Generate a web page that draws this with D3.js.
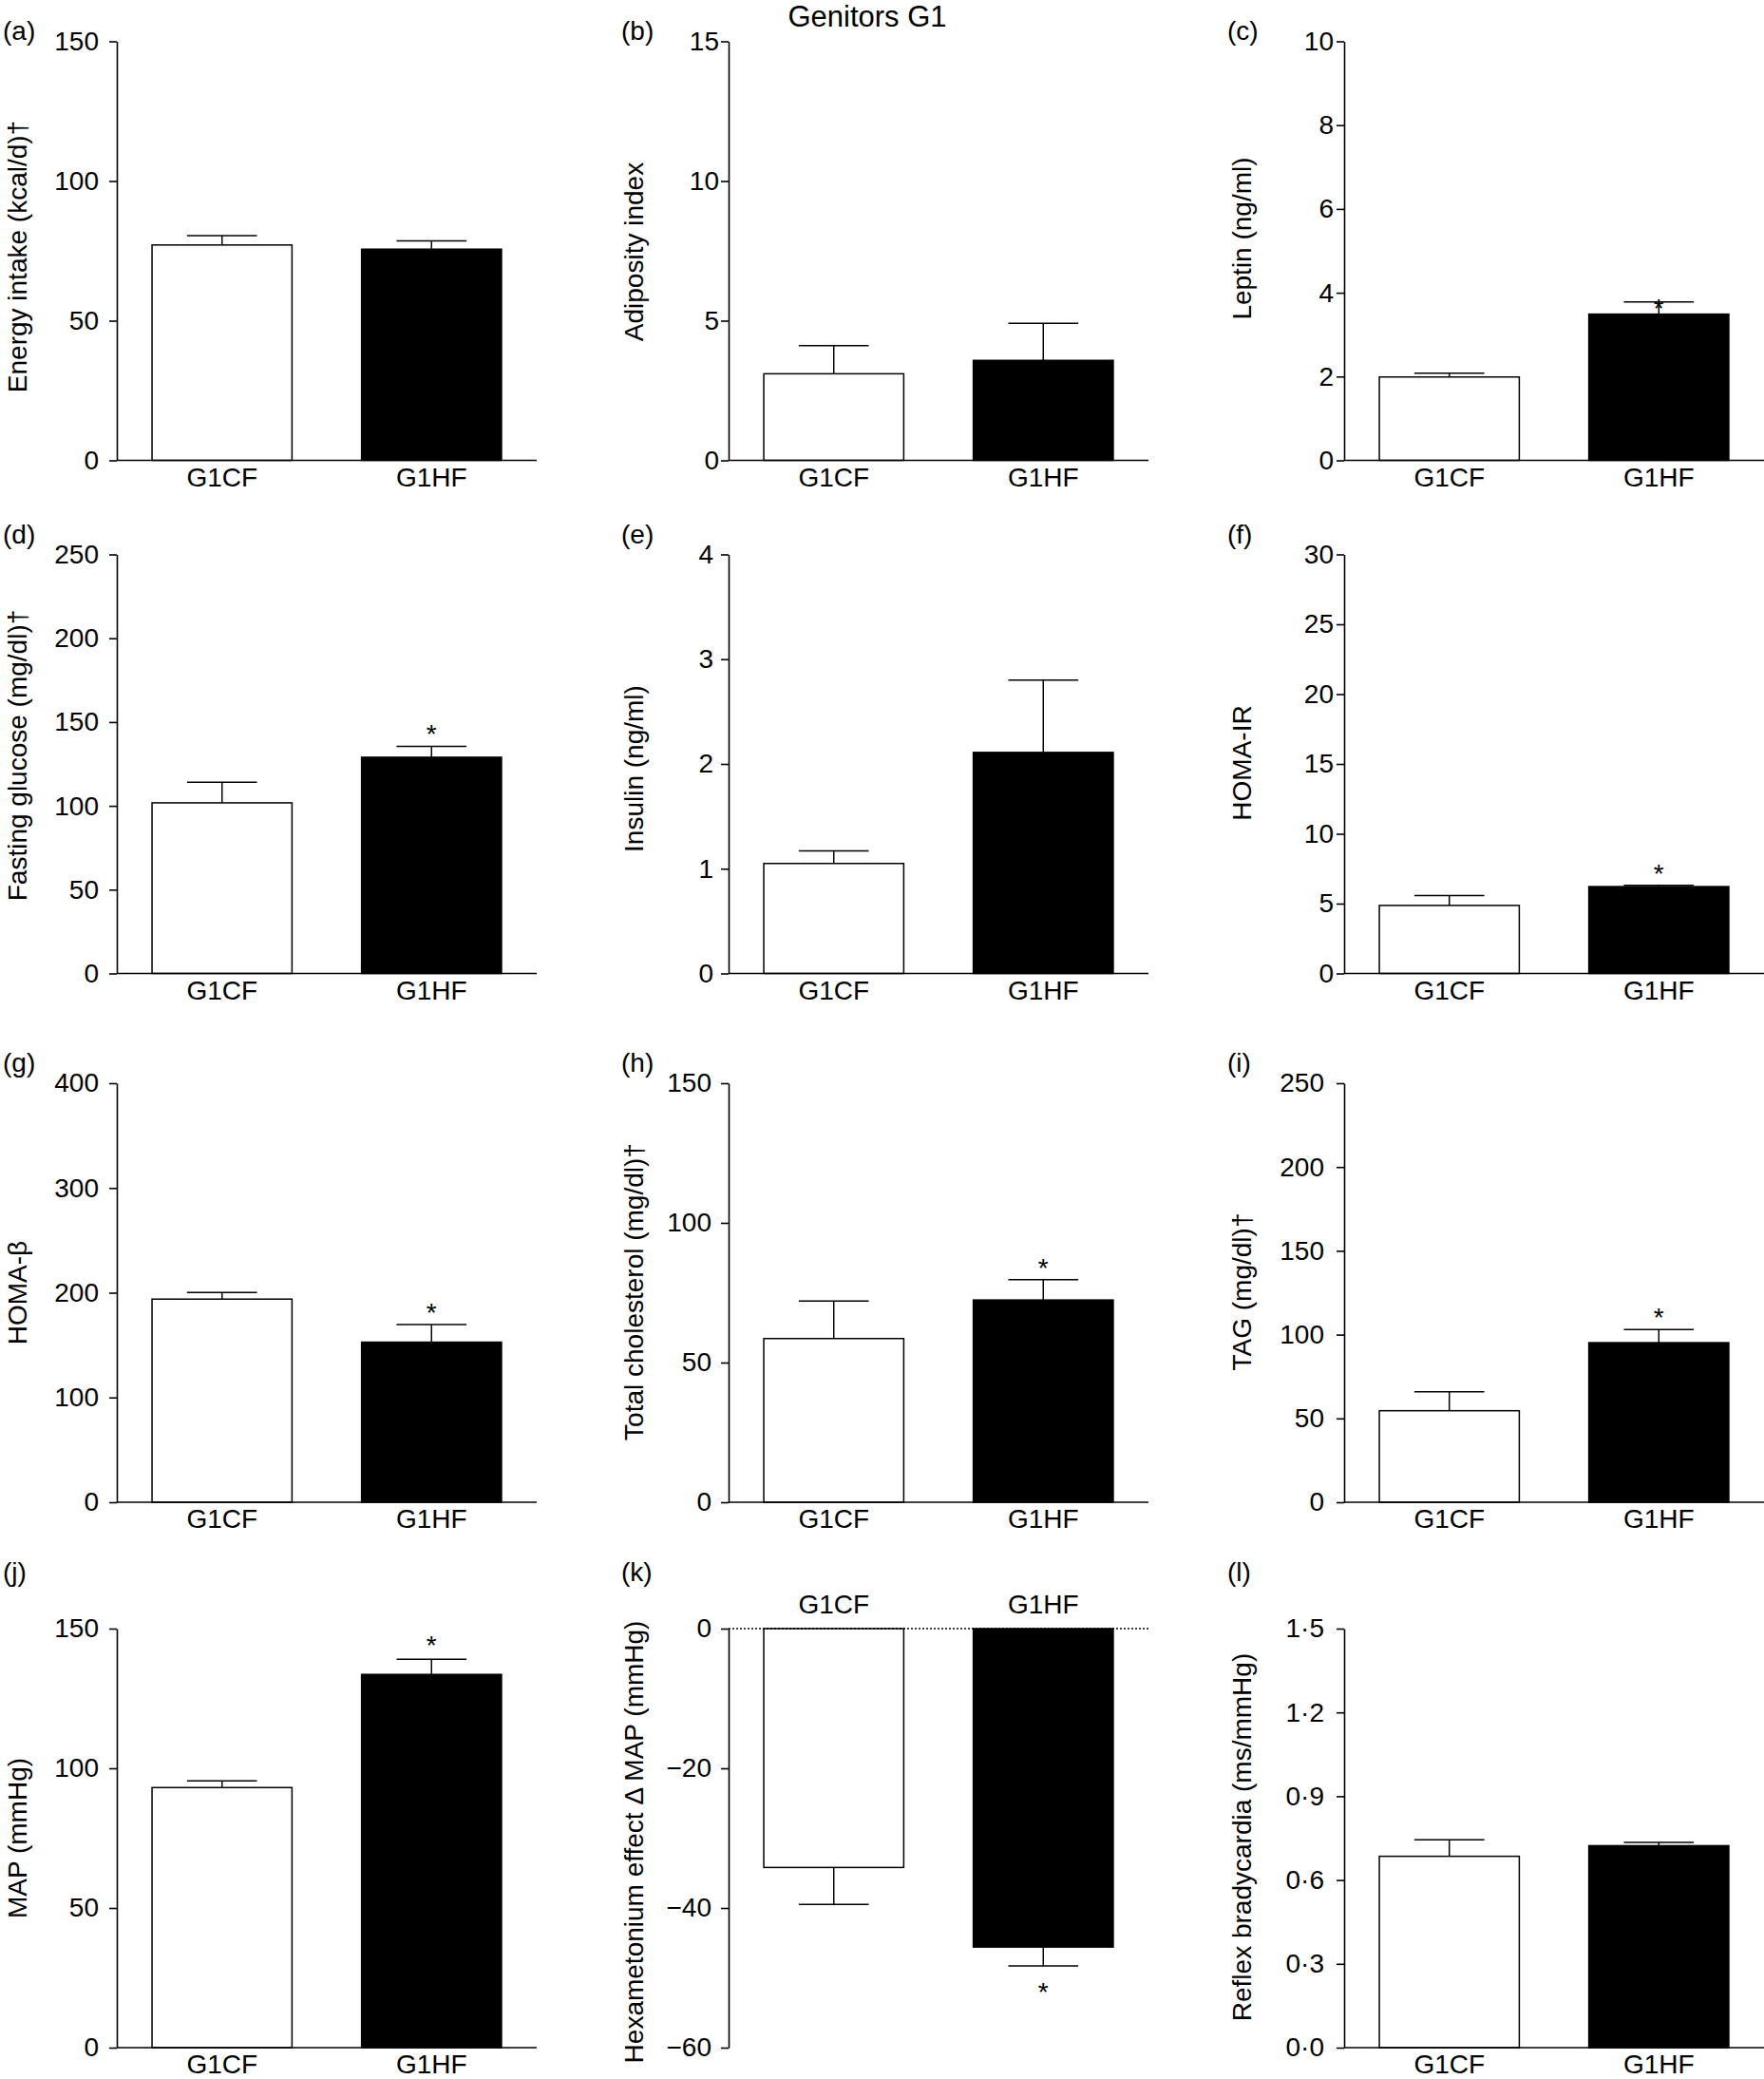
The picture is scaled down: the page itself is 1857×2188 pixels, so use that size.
<!DOCTYPE html>
<html>
<head>
<meta charset="utf-8">
<script src="https://cdn.jsdelivr.net/npm/d3@7"></script>
<style>
  body { margin: 0; background: #fff; }
  svg { display: block; }
</style>
</head>
<body>
<script>
// groups and per-panel values (mean and SEM)
const groups = ["G1CF", "G1HF"];
const panelLetters = ["(a)", "(b)", "(c)", "(d)", "(e)", "(f)", "(g)", "(h)", "(i)", "(j)", "(k)", "(l)"];
const yTitles = [
    "Energy intake (kcal/d)\u2020", "Adiposity index", "Leptin (ng/ml)",
    "Fasting glucose (mg/dl)\u2020", "Insulin (ng/ml)", "HOMA-IR",
    "HOMA-\u03B2", "Total cholesterol (mg/dl)\u2020", "TAG (mg/dl)\u2020",
    "MAP (mmHg)", "Hexametonium effect \u0394 MAP (mmHg)", "Reflex bradycardia (ms/mmHg)"
];
const yMin = [0, 0, 0, 0, 0, 0, 0, 0, 0, 0, -60, 0];
const yMax = [150, 15, 10, 250, 4, 30, 400, 150, 250, 150, 0, 1.5];
const yTicks = [
    [0, 50, 100, 150], [0, 5, 10, 15], [0, 2, 4, 6, 8, 10],
    [0, 50, 100, 150, 200, 250], [0, 1, 2, 3, 4], [0, 5, 10, 15, 20, 25, 30],
    [0, 100, 200, 300, 400], [0, 50, 100, 150], [0, 50, 100, 150, 200, 250],
    [0, 50, 100, 150], [-60, -40, -20, 0], [0, 0.3, 0.6, 0.9, 1.2, 1.5]
];
const meanCF = [77.1, 3.10, 1.99, 101.8, 1.05, 4.87, 193.9, 58.6, 54.6, 93.1, -34.2, 0.685];
const meanHF = [75.6, 3.58, 3.49, 129.0, 2.11, 6.22, 152.8, 72.4, 95.2, 133.6, -45.6, 0.723];
const semCF  = [3.3, 1.01, 0.09, 12.3, 0.12, 0.71, 6.4, 13.4, 11.3, 2.4, 5.3, 0.059];
const semHF  = [3.0, 1.33, 0.29, 6.5, 0.69, 0.09, 16.9, 7.3, 7.8, 5.4, 2.7, 0.012];
const significantHF = [false, false, true, true, false, true, true, true, true, true, true, false];
const figureTitle = "Genitors G1";

// layout
const width = 1857, height = 2188;
const font = "'Liberation Sans', Arial, Helvetica, sans-serif";
const colX = [123, 767, 1415];
const rowTop = [43.5, 583.5, 1140, 1714];
const plotW = 442, plotH = 441;
const letterX = [3, 654, 1292];
const letterY = [42, 572, 1128, 1664];
const titleX = [28, 677, 1317];
const titleShift = [6, 1, -13, -9, 5, -1, 0, -1, -1, 0, 4, -1];
const tickPad = [11, 2, 3, 11, 8, 3, 11, 10, 13, 11, 10, 13];
const starGap = [19, 19, 0, 19, 19, 19, 19, 19, 19, 21, 21, 19];

const svg = d3.select("body").append("svg")
    .attr("width", width)
    .attr("height", height)
    .attr("font-family", font);

svg.append("text")
    .attr("x", 913)
    .attr("y", 28)
    .attr("text-anchor", "middle")
    .attr("font-size", 31)
    .text(figureTitle);

panelLetters.forEach((letter, i) => {
    const col = i % 3, row = Math.floor(i / 3);
    const x0 = colX[col], top = rowTop[row];
    const negative = yMax[i] <= 0;

    const y = d3.scaleLinear().domain([yMin[i], yMax[i]]).range([top + plotH, top]);
    const x = d3.scaleBand().domain(groups).range([x0, x0 + plotW])
        .paddingInner(0.332).paddingOuter(0.168);
    const bw = x.bandwidth();

    const g = svg.append("g");

    // panel letter
    g.append("text")
        .attr("x", letterX[col])
        .attr("y", letterY[row])
        .attr("font-size", 28)
        .text(letter);

    // y axis
    let fmt = d3.format("d");
    if (i === 11) fmt = d => d3.format(".1f")(d).replace(".", "\u00B7");
    const yAxis = d3.axisLeft(y).tickValues(yTicks[i]).tickFormat(fmt)
        .tickSize(8).tickSizeOuter(0).tickPadding(tickPad[i]);
    g.append("g")
        .attr("transform", `translate(${x0},0)`)
        .call(yAxis)
        .call(a => a.attr("font-size", 28).attr("font-family", font))
        .call(a => a.selectAll("path, line").attr("stroke", "#000").attr("stroke-width", 1.6))
        .call(a => a.selectAll("text").attr("fill", "#000"));

    // y title
    g.append("text")
        .attr("transform", `translate(${titleX[col]},${top + plotH / 2 + titleShift[i]}) rotate(-90)`)
        .attr("text-anchor", "middle")
        .attr("font-size", 28)
        .text(yTitles[i]);

    // bars
    const means = [meanCF[i], meanHF[i]];
    const sems = [semCF[i], semHF[i]];
    groups.forEach((grp, j) => {
        const v = means[j];
        const y0 = y(0), yv = y(v);
        g.append("rect")
            .attr("x", x(grp))
            .attr("y", Math.min(y0, yv))
            .attr("width", bw)
            .attr("height", Math.abs(yv - y0))
            .attr("fill", j === 0 ? "#fff" : "#000")
            .attr("stroke", "#000")
            .attr("stroke-width", 1.5);
        const sign = v < 0 ? -1 : 1;
        const ye = y(v + sign * sems[j]);
        const cx = x(grp) + bw / 2;
        g.append("line")
            .attr("x1", cx).attr("x2", cx)
            .attr("y1", yv).attr("y2", ye)
            .attr("stroke", "#000").attr("stroke-width", 1.5);
        g.append("line")
            .attr("x1", cx - bw / 4).attr("x2", cx + bw / 4)
            .attr("y1", ye).attr("y2", ye)
            .attr("stroke", "#000").attr("stroke-width", 1.5);
        if (j === 1 && significantHF[i]) {
            const starCenter = sign > 0 ? ye - starGap[i] : ye + starGap[i];
            g.append("text")
                .attr("x", cx)
                .attr("y", starCenter + 16)
                .attr("text-anchor", "middle")
                .attr("font-size", 28)
                .text("*");
        }
        // group label
        g.append("text")
            .attr("x", cx)
            .attr("y", negative ? y(0) - 16 : y(0) + 27)
            .attr("text-anchor", "middle")
            .attr("font-size", 28)
            .text(grp);
    });

    // x axis (dotted zero line for the negative panel)
    const xLine = g.append("line")
        .attr("x1", x0).attr("x2", x0 + plotW)
        .attr("y1", y(0)).attr("y2", y(0))
        .attr("stroke", "#000").attr("stroke-width", 1.6);
    if (negative) xLine.attr("stroke-dasharray", "2,2");
});
</script>
</body>
</html>
